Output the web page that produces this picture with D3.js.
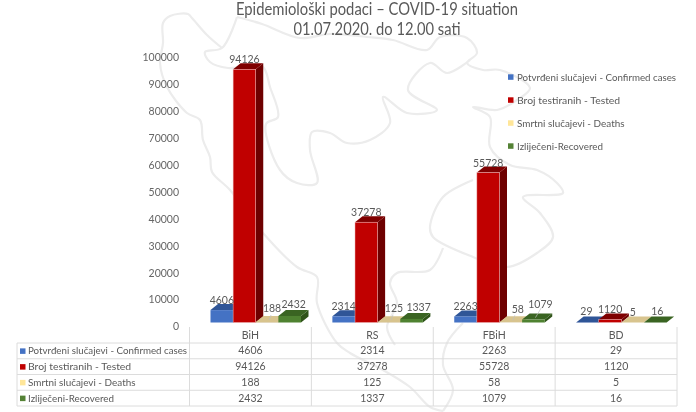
<!DOCTYPE html>
<html>
<head>
<meta charset="utf-8">
<script src="https://cdn.jsdelivr.net/npm/d3@7"></script>
<style>
html,body{margin:0;padding:0;background:#fff;overflow:hidden}
svg{display:block;filter:blur(0.45px)}
text{font-family:Lato,"Open Sans",sans-serif;fill:#595959}
</style>
</head>
<body>
<svg id="chart" width="696" height="412"></svg>
<script>
// data
var regions=["BiH","RS","FBiH","BD"];
var seriesNames=["Potvrđeni slučajevi - Confirmed cases","Broj testiranih - Tested","Smrtni slučajevi - Deaths","Izliječeni-Recovered"];
var confirmed=[4606,2314,2263,29];
var tested=[94126,37278,55728,1120];
var deaths=[188,125,58,5];
var recovered=[2432,1337,1079,16];
var yTicks=[0,10000,20000,30000,40000,50000,60000,70000,80000,90000,100000];

var allSeries=[confirmed,tested,deaths,recovered];

var front=["#4472c4","#c00000","#c9b27c","#4f8231"];
var topCol=["#2f5597","#7f0000","#d8c48e","#3a6422"];
var side=["#2f5597","#6e0000","#b9a36c","#2f5319"];
var keyCol=["#4472c4","#c00000","#ffe699","#548235"];

var svg=d3.select("#chart");

// faint map behind the chart
var mapLines=[
 [[237,17],[222,48],[205,52],[210,62],[228,68],[262,66],[270,87],[278,117],[266,124],[280,170],[297,183],[317,183],[310,150],[312,132],[330,133],[347,143],[370,140],[390,123],[383,97],[407,113],[437,110],[408,90],[430,63],[447,73],[470,60]],
 [[222,48],[207,35],[192,18],[188,14],[170,16],[163,23],[163,43],[160,63],[167,87],[187,113],[200,120],[203,140],[210,157],[212,172],[230,190],[263,233],[297,267],[317,277],[317,303],[337,343],[350,353],[383,370],[410,387],[430,407],[443,411]],
 [[237,17],[262,24],[300,38],[330,34],[367,37],[393,40],[427,50],[440,37],[467,38],[477,53],[467,63],[483,70],[500,70],[530,88],[517,100],[497,110],[473,107],[490,117],[490,147],[510,165],[537,170],[557,183],[563,193],[523,197],[540,213],[553,237],[537,253],[507,267],[473,257],[433,237],[430,227],[443,197],[473,180]],
 [[443,248],[430,270],[397,273],[390,283],[397,303],[387,327],[395,345]],
 [[463,323],[447,343],[443,365],[453,390],[443,411]]
];
var mapPath=d3.line().curve(d3.curveCatmullRom);
svg.append("g").selectAll("path").data(mapLines).enter().append("path")
 .attr("d",mapPath).attr("fill","none").attr("stroke","#ececec").attr("stroke-width",2.2);

// scales
var x=d3.scaleBand().domain(regions).range([189.5,677]);
var inner=d3.scaleBand().domain(d3.range(4)).range([21,111.5]);
var y=d3.scaleLinear().domain([0,100000]).range([322.5,53.5]);
var depthX=7.5,depthY=6;

// title
svg.append("text").attr("x",377).attr("y",15).attr("text-anchor","middle").attr("font-size",16.5).attr("textLength",282).attr("lengthAdjust","spacingAndGlyphs").text("Epidemiološki podaci – COVID-19 situation");
svg.append("text").attr("x",377).attr("y",35).attr("text-anchor","middle").attr("font-size",16.5).attr("textLength",167).attr("lengthAdjust","spacingAndGlyphs").text("01.07.2020. do 12.00 sati");

// y axis
var yAxis=svg.append("g").attr("transform","translate(179,4)")
 .call(d3.axisLeft(y).tickValues(yTicks).tickSize(0).tickPadding(0).tickFormat(d3.format("d")));
yAxis.select(".domain").remove();
yAxis.selectAll("text").attr("font-size",10.5).attr("font-family","Lato").style("fill","#666");

// bars, left to right so each one overlaps the side of the one before
var bars=[];
regions.forEach(function(r,i){
  allSeries.forEach(function(s,j){
    bars.push({region:r,series:j,value:s[i]});
  });
});
var barG=svg.append("g").selectAll("g").data(bars).enter().append("g");
function bx(d){return x(d.region)+inner(d.series)}
var w=inner.bandwidth();
barG.append("polygon").attr("fill",function(d){return side[d.series]})
 .attr("points",function(d){
   var a=bx(d)+w,t=y(d.value),b=y(0);
   return [[a,t],[a+depthX,t-depthY],[a+depthX,b-depthY],[a,b]].join(" ");
 });
barG.append("polygon").attr("fill",function(d){return topCol[d.series]})
 .attr("points",function(d){
   var a=bx(d),t=y(d.value);
   return [[a,t],[a+depthX,t-depthY],[a+w+depthX,t-depthY],[a+w,t]].join(" ");
 });
barG.append("rect").attr("fill",function(d){return front[d.series]})
 .attr("stroke",function(d){return d.series==1?"#eeb5b5":"none"}).attr("stroke-width",0.5)
 .attr("x",bx).attr("y",function(d){return y(d.value)}).attr("width",w)
 .attr("height",function(d){return y(0)-y(d.value)});

// data labels: [dx,dy] from the default spot above each bar, same order as bars
var labelNudge=[
 [0,0],[0,0],[5,3.5],[4,1.5],
 [0,0],[0,0],[5,4.5],[7,1.5],
 [0,0],[0,0],[7,3],[7,6],
 [-1,1],[0,0],[0,0],[2,1]
];
var labelG=svg.append("g");
labelG.selectAll("line").data(bars.filter(function(d,i){return labelNudge[i][1]>=3&&d.series>1})).enter().append("line")
 .attr("x1",function(d){return bx(d)+w/2+2}).attr("x2",function(d){return bx(d)+w/2+(d.series==3&&d.value>1000?8:4)})
 .attr("y1",function(d){return y(d.value)-2}).attr("y2",function(d){return y(d.value)-depthY-(d.series==3?6:1)})
 .attr("stroke","#bfbfbf").attr("stroke-width",0.7);
labelG.selectAll("text").data(bars).enter().append("text")
 .attr("text-anchor","middle").attr("font-size",10.5)
 .attr("x",function(d,i){return bx(d)+w/2+labelNudge[i][0]})
 .attr("y",function(d,i){return y(d.value)-depthY-labelNudge[i][1]})
 .text(function(d){return d.value});

// legend
var legendY=d3.scalePoint().domain(seriesNames).range([77,146]);
var legend=svg.append("g").selectAll("g").data(seriesNames).enter().append("g");
legend.append("rect").attr("x",508).attr("width",5.5).attr("height",5.5)
 .attr("y",function(d){return legendY(d)-2.7}).attr("fill",function(d,i){return keyCol[i]});
legend.append("text").attr("x",517).attr("y",function(d){return legendY(d)+3.5})
 .attr("font-size",10).attr("textLength",function(d){return d.length*4.3}).attr("lengthAdjust","spacingAndGlyphs").text(function(d){return d});

// data table under the chart
var rowY=d3.scaleBand().domain(seriesNames).range([343,406]);
var tbl=svg.append("g");
var lineCol="#dcdcdc";
tbl.selectAll("line.h").data(rowY.domain().map(rowY).concat([406])).enter().append("line")
 .attr("x1",17).attr("x2",677).attr("y1",function(d){return d}).attr("y2",function(d){return d})
 .attr("stroke",lineCol);
tbl.selectAll("line.v").data(regions.map(x).concat([677])).enter().append("line")
 .attr("x1",function(d){return d}).attr("x2",function(d){return d}).attr("y1",327).attr("y2",406)
 .attr("stroke",lineCol);
tbl.append("line").attr("x1",17).attr("x2",17).attr("y1",343).attr("y2",406).attr("stroke",lineCol);
tbl.selectAll("text.head").data(regions).enter().append("text").attr("class","head")
 .attr("text-anchor","middle").attr("font-size",10.5)
 .attr("x",function(d){return x(d)+x.bandwidth()/2}).attr("y",339).text(function(d){return d});
seriesNames.forEach(function(name,j){
  var ry=rowY(name)+rowY.bandwidth()/2+3.5;
  tbl.append("rect").attr("x",20).attr("y",ry-6).attr("width",5.5).attr("height",5.5).attr("fill",keyCol[j]);
  tbl.append("text").attr("x",28).attr("y",ry).attr("font-size",10)
   .attr("textLength",name.length*4.3).attr("lengthAdjust","spacingAndGlyphs").text(name);
  tbl.selectAll("text.v"+j).data(allSeries[j]).enter().append("text").attr("class","v"+j)
   .attr("text-anchor","middle").attr("font-size",10.5)
   .attr("x",function(d,i){return x(regions[i])+x.bandwidth()/2}).attr("y",ry).text(function(d){return d});
});
</script>
</body>
</html>
